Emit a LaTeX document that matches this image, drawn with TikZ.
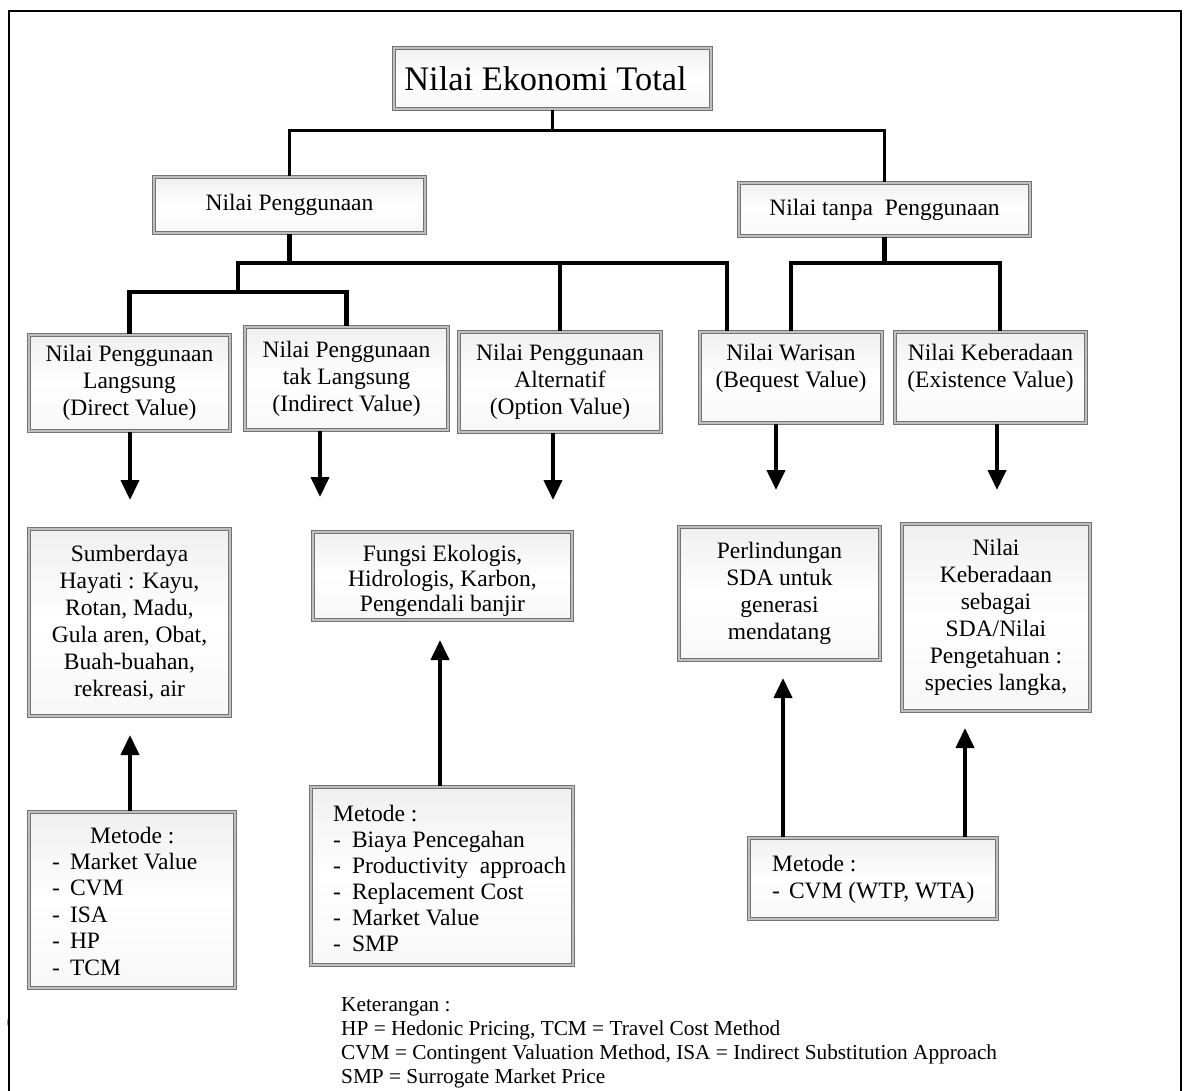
\documentclass[tikz,border=0pt]{standalone}
\usepackage{fontspec}
\setmainfont{Liberation Serif}
\usetikzlibrary{arrows.meta}
\tikzset{
  bx/.style={draw=black!55, line width=1.3pt, double=black!25, double distance=1.8pt,
    top color=black!6, bottom color=black!3, middle color=white,
    inner sep=0pt, align=center, font=\fontsize{23.5}{27}\selectfont},
  mtext/.style={anchor=west, inner sep=0pt, align=left, font=\fontsize{23.5}{26.4}\selectfont},
  thinconn/.style={line width=3pt, line join=miter},
  conn/.style={line width=4.8pt, line join=miter},
  arr/.style={line width=4pt, -{Triangle[width=18pt,length=20pt]}},
  frame/.style={line width=2pt},
}
\begin{document}
\begin{tikzpicture}[x=1pt,y=-1pt]
\useasboundingbox (0,0) rectangle (1188,1091);
% outer frame
\draw[frame] (9,1091) -- (9,11) -- (1181,11) -- (1181,1091);
\begin{scope}
  \clip (0,1000) rectangle (9,1050);
  \node[font=\fontsize{23.5}{27}\selectfont, inner sep=0pt] (paren) at (10.5,1023) {(};
\end{scope}

% level 0 and 1
\node[bx, minimum width=317, minimum height=61, font=\fontsize{34.4}{40}\selectfont] (top) at (552.5,78.5) {Nilai Ekonomi Total\hspace*{14pt}};
\node[bx, minimum width=271, minimum height=56] (np) at (289.5,205) {Nilai Penggunaan};
\node[bx, minimum width=291, minimum height=53] (nt) at (884.5,209.5) {Nilai tanpa~ Penggunaan};

% level 2
\node[bx, minimum width=201, minimum height=96] (b1) at (129.5,383) {Nilai Penggunaan\\Langsung\\(Direct Value)};
\node[bx, minimum width=203, minimum height=103] (b2) at (346.5,378.5) {Nilai Penggunaan\\tak Langsung\\(Indirect Value)};
\node[bx, minimum width=202, minimum height=100] (b3) at (560,382) {Nilai Penggunaan\\Alternatif\\(Option Value)};
\node[bx, minimum width=182, minimum height=91] (b4) at (791,377.5) {Nilai Warisan\\(Bequest Value)\rule[-23pt]{0pt}{23pt}};
\node[bx, minimum width=191, minimum height=91] (b5) at (990.5,377.5) {Nilai Keberadaan\\(Existence Value)\rule[-23pt]{0pt}{23pt}};

% level 3
\node[bx, minimum width=201, minimum height=187] (s1) at (129.5,622.5) {Sumberdaya\\Hayati : Kayu,\\Rotan, Madu,\\Gula aren, Obat,\\Buah-buahan,\\rekreasi, air};
\node[bx, minimum width=259, minimum height=88, font=\fontsize{23.5}{25}\selectfont] (s2) at (442.5,576) {\rule{0pt}{26pt}Fungsi Ekologis,\\Hidrologis, Karbon,\\Pengendali banjir};
\node[bx, minimum width=201, minimum height=133] (s3) at (779.5,593.5) {Perlindungan\\SDA untuk\\generasi\\mendatang};
\node[bx, minimum width=188, minimum height=187] (s4) at (996,617.5) {Nilai\\Keberadaan\\sebagai\\SDA/Nilai\\Pengetahuan :\\species langka,};

% method boxes and their texts
\node[bx, minimum width=206, minimum height=176] (m1) at (132,900) {};
\node[mtext] (m1t) at (52,901)
  {\hspace*{38pt}Metode :\\-\hspace{10pt}Market Value\\-\hspace{10pt}CVM\\-\hspace{10pt}ISA\\-\hspace{10pt}HP\\-\hspace{10pt}TCM};
\node[bx, minimum width=262, minimum height=178] (m2) at (442,876) {};
\node[mtext, font=\fontsize{23.5}{26}\selectfont] (m2t) at (333,878)
  {Metode :\\-\hspace{11pt}Biaya Pencegahan\\-\hspace{11pt}Productivity~ approach\\-\hspace{11pt}Replacement Cost\\-\hspace{11pt}Market Value\\-\hspace{11pt}SMP};
\node[bx, minimum width=248, minimum height=81] (m3) at (873,878.5) {};
\node[mtext, font=\fontsize{23.5}{27}\selectfont] (m3t) at (772,879)
  {Metode :\\-\hspace{9pt}CVM (WTP, WTA)};

% legend
\node[anchor=north west, inner sep=0pt, align=left, font=\fontsize{21.3}{24}\selectfont] (leg) at (341,997)
  {Keterangan :\\HP = Hedonic Pricing, TCM = Travel Cost Method\\CVM = Contingent Valuation Method, ISA = Indirect Substitution Approach\\SMP = Surrogate Market Price};

% helper coordinates
\coordinate (bar1) at (0,131);
\coordinate (bar2) at (0,263);
\coordinate (bar3) at (0,292);
\coordinate (x238) at (238,0);
\coordinate (x727) at (727,0);
\coordinate (x1000) at (1000,0);

% tree connectors
\draw[thinconn] (top.south) -- (top.south |- bar1);
\draw[thinconn] (np.north) |- (nt.north |- bar1) -- (nt.north);
\draw[conn] (np.south) -- (np.south |- bar2);
\draw[conn] (x238 |- bar3) -- (x238 |- bar2) -- (x727 |- bar2) -- (x727 |- b4.north);
\draw[conn] (b3.north) -- (b3.north |- bar2);
\draw[conn] (b1.north) |- (b2.north |- bar3) -- (b2.north);
\draw[conn] (nt.south) -- (nt.south |- bar2);
\draw[conn] (b4.north) |- (x1000 |- bar2) -- (x1000 |- b5.north);

% arrow end points
\coordinate (a1) at (130,500);
\coordinate (a2) at (320,497);
\coordinate (a3) at (553,500);
\coordinate (a4) at (776,490);
\coordinate (a5) at (997,490);
\coordinate (u1) at (130,735);
\coordinate (u2) at (440,640);
\coordinate (u3) at (783,678);
\coordinate (u4) at (965,728);

\draw[arr] (b1.south -| a1) -- (a1);
\draw[arr] (b2.south -| a2) -- (a2);
\draw[arr] (b3.south -| a3) -- (a3);
\draw[arr] (b4.south -| a4) -- (a4);
\draw[arr] (b5.south -| a5) -- (a5);
\draw[arr] (m1.north -| u1) -- (u1);
\draw[arr] (m2.north -| u2) -- (u2);
\draw[arr] (m3.north -| u3) -- (u3);
\draw[arr] (m3.north -| u4) -- (u4);
\end{tikzpicture}
\end{document}
